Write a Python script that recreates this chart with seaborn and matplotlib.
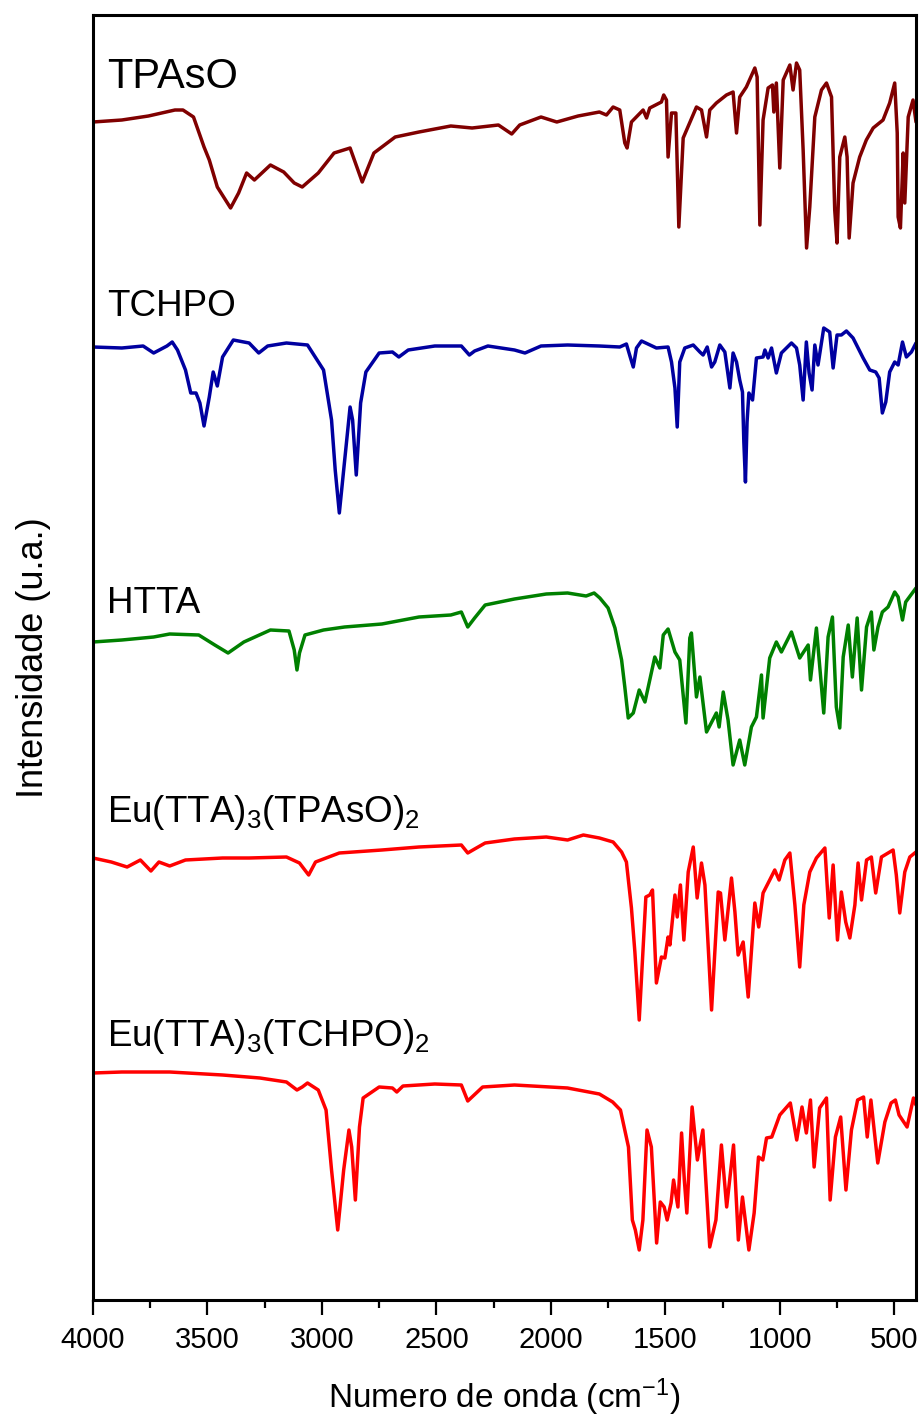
#!/usr/bin/env python3
"""
FTIR spectra of the ligands and Eu(TTA)3 complexes, stacked with offsets.
"""

import pandas as pd
import matplotlib
matplotlib.use('Agg')
import matplotlib.pyplot as plt
from matplotlib.ticker import MultipleLocator
import seaborn as sns

# Wavenumber (cm-1) and relative intensity of each spectrum
tpaso_wn = [4000, 3874, 3758, 3642, 3607, 3561, 3515, 3492, 3457, 3399, 3364, 3329, 3295,
            3225, 3167, 3121, 3086, 3016, 2947, 2877, 2824, 2773, 2680, 2576, 2437, 2344,
            2229, 2171, 2136, 2043, 1974, 1881, 1788, 1757, 1728, 1699, 1677, 1667, 1648,
            1597, 1582, 1568, 1517, 1507, 1495, 1488, 1473, 1454, 1441, 1422, 1364, 1342,
            1320, 1306, 1277, 1233, 1204, 1189, 1175, 1146, 1109, 1099, 1087, 1073, 1051,
            1032, 1026, 1015, 1000, 985, 956, 942, 927, 913, 898, 883, 869, 847, 818, 796,
            774, 760, 750, 738, 716, 706, 697, 680, 651, 622, 592, 549, 520, 498, 487, 483,
            473, 461, 454, 439, 418, 405]
tpaso_y = [178, 180, 184, 190, 190, 183, 153, 140, 113, 92, 107, 127, 120,
           135, 128, 117, 113, 127, 147, 152, 118, 147, 163, 168, 174, 172,
           175, 166, 175, 183, 178, 184, 188, 185, 193, 190, 157, 152, 178,
           190, 182, 192, 198, 205, 200, 143, 187, 187, 73, 162, 193, 190,
           163, 190, 197, 205, 208, 167, 203, 213, 232, 223, 75, 180, 212,
           215, 188, 217, 132, 220, 235, 210, 237, 230, 150, 52, 93, 183, 210, 217,
           203, 90, 57, 143, 163, 143, 62, 117, 143, 160, 172, 180, 197, 217, 167, 83,
           72, 147, 97, 183, 200, 178]

tchpo_wn = [4000, 3874, 3781, 3735, 3677, 3654, 3631, 3596, 3573, 3550, 3533, 3515, 3492,
            3475, 3457, 3434, 3387, 3318, 3276, 3237, 3155, 3063, 2993, 2958, 2942, 2924,
            2905, 2877, 2866, 2850, 2831, 2808, 2750, 2692, 2664, 2623, 2507, 2391, 2356,
            2333, 2275, 2159, 2113, 2043, 1927, 1788, 1699, 1670, 1652, 1640, 1626, 1604,
            1539, 1488, 1473, 1458, 1448, 1437, 1415, 1378, 1349, 1335, 1317, 1298, 1284,
            1262, 1240, 1218, 1204, 1189, 1175, 1163, 1157, 1150, 1143, 1135, 1119, 1102,
            1073, 1065, 1051, 1036, 1015, 993, 949, 927, 913, 898, 884, 872, 859, 847, 833,
            808, 782, 767, 750, 731, 709, 680, 636, 607, 581, 566, 552, 537, 520, 498, 483,
            464, 447, 425, 405]
tchpo_y = [203, 202, 204, 197, 204, 208, 200, 180, 157, 157, 147, 124, 153,
           178, 164, 193, 210, 207, 197, 204, 207, 205, 180, 130, 80, 37,
           80, 143, 130, 75, 147, 178, 197, 198, 193, 200, 204, 204, 195,
           199, 204, 200, 197, 204, 205, 204, 203, 206, 192, 183, 202, 209,
           202, 203, 188, 162, 123, 188, 202, 205, 198, 195, 203, 183, 188,
           205, 198, 162, 197, 188, 170, 158, 108, 68, 128, 157, 150, 192,
           193, 200, 192, 202, 177, 197, 207, 202, 185, 150, 208, 177, 160, 205, 185,
           222, 218, 182, 215, 215, 219, 212, 192, 180, 178, 172, 137, 148, 178, 188, 185,
           208, 193, 198, 207]

htta_wn = [4000, 3874, 3735, 3665, 3538, 3468, 3410, 3341, 3225, 3144, 3121, 3109, 3098,
           3074, 2993, 2901, 2738, 2576, 2437, 2391, 2363, 2333, 2287, 2159, 2020, 1927,
           1846, 1811, 1786, 1750, 1720, 1691, 1677, 1662, 1640, 1614, 1589, 1546, 1524,
           1509, 1488, 1458, 1437, 1410, 1393, 1386, 1364, 1349, 1320, 1277, 1265, 1247,
           1226, 1204, 1175, 1153, 1124, 1102, 1080, 1073, 1044, 1015, 993, 949, 913, 876,
           866, 840, 808, 789, 770, 753, 738, 723, 701, 683, 662, 643, 621, 600, 589, 571,
           552, 527, 498, 483, 464, 450, 405]
htta_y = [158, 160, 163, 166, 165, 155, 147, 158, 170, 169, 150, 130, 147,
          165, 170, 173, 176, 183, 185, 188, 173, 182, 195, 201, 206, 207,
          204, 207, 202, 192, 172, 140, 113, 82, 87, 110, 98, 143, 132,
          165, 171, 148, 140, 77, 162, 167, 103, 123, 68, 87, 73, 108,
          80, 35, 60, 35, 73, 83, 125, 82, 142, 158, 148, 168, 142, 155,
          120, 172, 87, 163, 183, 93, 72, 143, 175, 123, 182, 110, 173, 188, 150, 173,
          188, 193, 208, 203, 180, 198, 212]

eu_tpaso_wn = [4000, 3920, 3851, 3793, 3747, 3712, 3665, 3596, 3434, 3318, 3155, 3098, 3058,
               3028, 2924, 2738, 2576, 2391, 2363, 2333, 2287, 2159, 2020, 1927, 1858, 1788,
               1728, 1691, 1670, 1648, 1633, 1614, 1601, 1585, 1568, 1556, 1539, 1517, 1502,
               1488, 1480, 1458, 1448, 1434, 1419, 1400, 1378, 1361, 1342, 1327, 1298, 1269,
               1259, 1240, 1211, 1196, 1182, 1160, 1138, 1109, 1092, 1073, 1044, 1022, 1003,
               978, 956, 934, 913, 895, 869, 840, 803, 784, 767, 748, 731, 712, 694, 672, 658,
               643, 621, 600, 581, 556, 505, 491, 476, 454, 432, 405]
eu_tpaso_y = [192, 188, 183, 190, 179, 188, 184, 190, 192, 192, 193, 187, 175,
              188, 197, 200, 203, 205, 197, 201, 207, 211, 213, 210, 215, 212,
              208, 198, 188, 142, 98, 30, 85, 153, 155, 160, 67, 93, 92,
              113, 105, 155, 133, 165, 110, 178, 203, 152, 187, 165, 40, 158,
              157, 110, 172, 138, 95, 108, 53, 147, 123, 157, 170, 180, 170,
              190, 197, 145, 83, 145, 178, 192, 202, 132, 185, 110, 158, 128, 112, 145, 187,
              150, 190, 193, 157, 193, 200, 175, 137, 178, 193, 198]

eu_tchpo_wn = [4000, 3874, 3665, 3434, 3271, 3155, 3109, 3086, 3063, 3016, 2982, 2958, 2931,
               2905, 2882, 2870, 2854, 2836, 2820, 2750, 2692, 2673, 2646, 2507, 2391, 2363,
               2298, 2159, 1927, 1788, 1730, 1696, 1661, 1644, 1631, 1614, 1598, 1580, 1561,
               1538, 1522, 1505, 1492, 1475, 1464, 1445, 1429, 1417, 1406, 1383, 1360, 1336,
               1306, 1279, 1255, 1232, 1202, 1181, 1163, 1135, 1112, 1093, 1074, 1058, 1035,
               1019, 1000, 954, 926, 903, 884, 866, 850, 826, 796, 780, 757, 734, 711, 687,
               660, 634, 618, 602, 572, 541, 514, 495, 479, 444, 416, 405]
eu_tchpo_y = [227, 228, 228, 225, 222, 218, 210, 213, 217, 210, 190, 130, 70,
              130, 170, 153, 100, 173, 202, 213, 212, 208, 214, 216, 215, 199,
              213, 215, 212, 206, 198, 190, 153, 80, 70, 50, 80, 170, 153,
              57, 98, 93, 80, 97, 120, 93, 167, 120, 87, 193, 140, 170,
              53, 80, 155, 93, 155, 60, 103, 50, 87, 143, 140, 162, 163,
              173, 185, 197, 160, 193, 167, 200, 133, 192, 202, 100, 163, 183, 110, 170,
              200, 203, 163, 200, 137, 178, 197, 200, 185, 173, 202, 195]

samples = ['TPAsO', 'TCHPO', 'HTTA', 'Eu(TTA)3(TPAsO)2', 'Eu(TTA)3(TCHPO)2']
labels = ['TPAsO', 'TCHPO', 'HTTA', 'Eu(TTA)$_3$(TPAsO)$_2$', 'Eu(TTA)$_3$(TCHPO)$_2$']
offsets = [1000, 750, 500, 250, 0]
colors = ['#800000', '#0000A0', '#008000', '#FF0000', '#FF0000']
spectra = [(tpaso_wn, tpaso_y), (tchpo_wn, tchpo_y), (htta_wn, htta_y),
           (eu_tpaso_wn, eu_tpaso_y), (eu_tchpo_wn, eu_tchpo_y)]

# Long-form table, each spectrum shifted by its offset
frames = []
for name, (wn, y), off in zip(samples, spectra, offsets):
    frames.append(pd.DataFrame({'wn': wn, 'y': [v + off for v in y], 'sample': name}))
df = pd.concat(frames, ignore_index=True)

sns.set_style('white')
plt.rcParams['font.family'] = ['Liberation Sans', 'DejaVu Sans']
plt.rcParams['mathtext.default'] = 'regular'
plt.rcParams['text.color'] = 'black'
plt.rcParams['axes.labelcolor'] = 'black'
plt.rcParams['xtick.color'] = 'black'

fig = plt.figure(figsize=(9.21, 14.23), dpi=100)
ax = fig.add_axes([93 / 921, 123 / 1423, 823 / 921, 1285 / 1423])

sns.lineplot(data=df, x='wn', y='y', hue='sample', hue_order=samples,
             palette=dict(zip(samples, colors)), estimator=None, sort=False,
             legend=False, linewidth=2.5, ax=ax)

ax.set_xlim(4000, 405)
ax.set_ylim(0, 1285)
ax.xaxis.set_major_locator(MultipleLocator(500))
ax.xaxis.set_minor_locator(MultipleLocator(250))
ax.set_yticks([])
ax.tick_params(axis='x', which='major', direction='out', length=11, width=1.6,
               labelsize=21, pad=8, bottom=True, top=False, color='black',
               labelcolor='black')
ax.tick_params(axis='x', which='minor', direction='out', length=5.5, width=1.6,
               bottom=True, top=False, color='black')
for sp in ax.spines.values():
    sp.set_color('black')
    sp.set_linewidth(2.2)

ax.set_xlabel('Numero de onda (cm$^{-1}$)', fontsize=24, labelpad=16, color='black')
ax.set_ylabel('Intensidade (u.a.)', fontsize=26, labelpad=30, color='black')

# Sample names above each trace
label_pos = [0.943, 0.766, 0.535, 0.372, 0.198]
label_size = [30, 26.5, 26.5, 26.5, 26.5]
for text, ypos, fs in zip(labels, label_pos, label_size):
    ax.text(0.017, ypos, text, transform=ax.transAxes, fontsize=fs,
            ha='left', va='baseline', color='black')

fig.savefig('out.png', dpi=100)
plt.close(fig)
